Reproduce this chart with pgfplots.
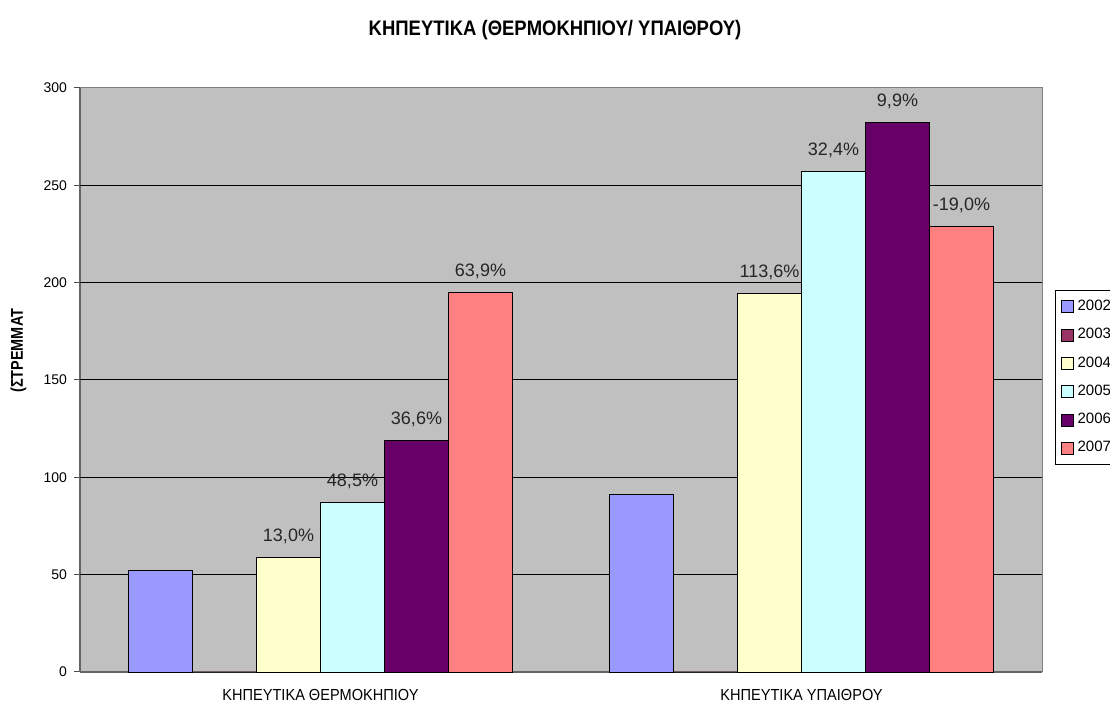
\documentclass[border=0pt]{standalone}
\usepackage{graphicx}
\usepackage{fontspec}
\setmainfont{Liberation Sans}
\usepackage{pgfplots}
\pgfplotsset{compat=1.18}
\definecolor{c2002}{HTML}{9999FF}
\definecolor{c2003}{HTML}{993366}
\definecolor{c2004}{HTML}{FFFFCC}
\definecolor{c2005}{HTML}{CCFFFF}
\definecolor{c2006}{HTML}{660066}
\definecolor{c2007}{HTML}{FF8080}
\definecolor{plotbg}{HTML}{C0C0C0}
\begin{document}
\begin{tikzpicture}
\begin{axis}[
  scale only axis,
  width=481pt, height=292pt,
  xmin=-0.5, xmax=1.5,
  ymin=0, ymax=300,
  ybar=0pt, bar width=32pt,
  axis x line*=bottom, axis y line*=left,
  axis line style={draw=black!60, line width=0.8pt},
  axis background/.style={fill=plotbg},
  xtick={0,1},
  xticklabels={\scalebox{0.91}[1]{ΚΗΠΕΥΤΙΚΑ ΘΕΡΜΟΚΗΠΙΟΥ}, \scalebox{0.91}[1]{ΚΗΠΕΥΤΙΚΑ ΥΠΑΙΘΡΟΥ}},
  major x tick style={draw=none},
  extra x ticks={-0.5,0.5,1.5},
  extra x tick labels={},
  extra x tick style={major tick length=3pt, tick style={draw=black, line width=0.6pt}},
  x tick label style={font=\fontsize{8}{9}\selectfont, yshift=-2pt},
  ytick={0,50,...,300},
  tick align=outside,
  major tick length=3pt,
  y tick label style={font=\fontsize{7}{8}\selectfont},
  extra y ticks={50,100,...,250},
  extra y tick labels={},
  extra y tick style={grid=major, major tick length=0pt, major grid style={draw=black, line width=0.5pt}},
  tick style={draw=black!70, line width=0.5pt},
  /pgf/number format/assume math mode=true,
  ylabel={\bfseries\scalebox{0.85}[1]{(ΣΤΡΕΜΜΑΤ}},
  ylabel style={font=\fontsize{8.5}{9}\selectfont, at={(rel axis cs:-0.064,0.55)}, anchor=center, rotate=0},
  legend style={at={(rel axis cs:1.0135,0.654)}, anchor=north west, draw=black, fill=white,
    font=\fontsize{7.5}{8}\selectfont, row sep=3.4pt, inner sep=2.8pt,
    /tikz/every even column/.append style={column sep=2pt}},
  legend cell align=left,
  legend image code/.code={\draw[#1, draw=black, line width=0.3pt] (0pt,-3pt) rectangle (6pt,3pt);},
  every node near coord/.append style={font=\fontsize{9}{10}\selectfont, text=black!85, anchor=base, yshift=8pt},
  point meta=explicit symbolic,
  clip=false,
]
\addplot[fill=c2002, draw=black, line width=0.4pt] coordinates {(0,52.0) (1,91.3)};
\addplot[fill=c2003, draw=black, line width=0.4pt] coordinates {(0,0) (1,0)};
\addplot[fill=c2004, draw=black, line width=0.4pt, nodes near coords] coordinates {(0,58.8) [13,0\%] (1,194.5) [113,6\%]};
\addplot[fill=c2005, draw=black, line width=0.4pt, nodes near coords] coordinates {(0,87.2) [48,5\%] (1,257.2) [32,4\%]};
\addplot[fill=c2006, draw=black, line width=0.4pt, nodes near coords] coordinates {(0,118.8) [36,6\%] (1,282.3) [9,9\%]};
\addplot[fill=c2007, draw=black, line width=0.4pt, nodes near coords] coordinates {(0,194.8) [63,9\%] (1,229.0) [-19,0\%]};
\legend{2002,2003,2004,2005,2006,2007}
\draw[black!50, line width=0.5pt] (rel axis cs:0,1) -- (rel axis cs:1,1) -- (rel axis cs:1,0);
\node[font=\bfseries\fontsize{10.5}{12}\selectfont] at (rel axis cs:0.4938,1.0993) {\scalebox{0.88}[1]{ΚΗΠΕΥΤΙΚΑ (ΘΕΡΜΟΚΗΠΙΟΥ/ ΥΠΑΙΘΡΟΥ)}};
\coordinate (bl) at (rel axis cs:0,0);
\end{axis}
\pgfresetboundingbox
\path[use as bounding box] (bl) ++(-40pt,-15pt) rectangle ++(555pt,351pt);
\end{tikzpicture}
\end{document}
